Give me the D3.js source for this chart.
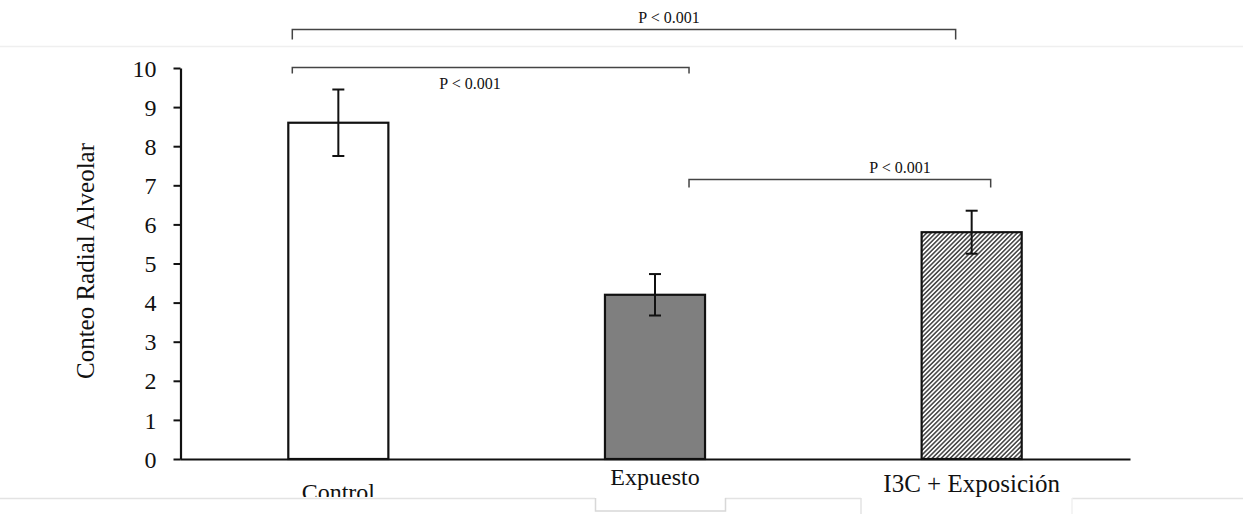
<!DOCTYPE html>
<html>
<head>
<meta charset="utf-8">
<script src="https://cdn.jsdelivr.net/npm/d3@7"></script>
<style>
  html, body { margin: 0; padding: 0; background: #fff; }
  svg { display: block; }
  text { font-family: "Liberation Serif", "Times New Roman", serif; fill: #111; }
</style>
</head>
<body>
<svg id="chart" width="1243" height="514"></svg>
<script>
// ---- data ----
const categories = ["Control", "Expuesto", "I3C + Exposición"];
const means = [8.6, 4.2, 5.8];
const errors = [0.85, 0.53, 0.55];
const yTicks = [0, 1, 2, 3, 4, 5, 6, 7, 8, 9, 10];
const yLabel = "Conteo Radial Alveolar";
const pLabels = ["P < 0.001", "P < 0.001", "P < 0.001"];
const bracketFrom = ["Control", "Control", "Expuesto"];
const bracketTo = ["I3C + Exposición", "Expuesto", "I3C + Exposición"];
const bracketLevel = [11.0, 10.03, 7.15];

// ---- layout ----
const W = 1243, H = 514;
const svg = d3.select("#chart");
const x = d3.scaleBand().domain(categories).range([180, 1130])
  .paddingInner(0.684).paddingOuter(0.342);
const y = d3.scaleLinear().domain([0, 10]).range([459, 68]);

// hatch pattern
const defs = svg.append("defs");
const pat = defs.append("pattern").attr("id", "hatch")
  .attr("patternUnits", "userSpaceOnUse").attr("width", 3.2).attr("height", 3.2)
  .attr("patternTransform", "rotate(45)");
pat.append("rect").attr("width", 3.2).attr("height", 3.2).attr("fill", "#fff");
pat.append("line").attr("x1", 0.8).attr("y1", 0).attr("x2", 0.8).attr("y2", 3.2)
  .attr("stroke", "#222").attr("stroke-width", 1.3);

defs.append("clipPath").attr("id", "clipBottom")
  .append("rect").attr("x", 0).attr("y", 0).attr("width", W).attr("height", 497);

// faint page lines (document artefacts)
const faint = "#e3e3e3";
svg.append("line").attr("x1", 0).attr("x2", W).attr("y1", 46.5).attr("y2", 46.5)
  .attr("stroke", "#efefef").attr("stroke-width", 1.5);
const bottomSegs = [[0, 595], [725, 861], [1072, W]];
bottomSegs.forEach(s => svg.append("line").attr("x1", s[0]).attr("x2", s[1])
  .attr("y1", 498.5).attr("y2", 498.5).attr("stroke", faint).attr("stroke-width", 1.5));
svg.append("path").attr("d", "M595.5,498 V511 H725.5 V498")
  .attr("fill", "none").attr("stroke", "#d8d8d8").attr("stroke-width", 1.5);
svg.append("line").attr("x1", 861).attr("x2", 861).attr("y1", 498).attr("y2", 514)
  .attr("stroke", faint).attr("stroke-width", 1.5);
svg.append("line").attr("x1", 1072).attr("x2", 1072).attr("y1", 498).attr("y2", 514)
  .attr("stroke", "#f0f0f0").attr("stroke-width", 1.5);

// bars
const fills = ["#ffffff", "#7f7f7f", "url(#hatch)"];
svg.selectAll("rect.bar").data(categories).join("rect")
  .attr("class", "bar")
  .attr("x", d => x(d))
  .attr("width", x.bandwidth())
  .attr("y", (d, i) => y(means[i]))
  .attr("height", (d, i) => y(0) - y(means[i]))
  .attr("fill", (d, i) => fills[i])
  .attr("stroke", "#111").attr("stroke-width", 2.2);

// error bars
const capW = 12;
const eb = svg.selectAll("g.err").data(categories).join("g").attr("class", "err")
  .attr("stroke", "#111").attr("stroke-width", 2);
eb.append("line")
  .attr("x1", d => x(d) + x.bandwidth() / 2).attr("x2", d => x(d) + x.bandwidth() / 2)
  .attr("y1", (d, i) => y(means[i] + errors[i])).attr("y2", (d, i) => y(means[i] - errors[i]));
eb.append("line")
  .attr("x1", d => x(d) + x.bandwidth() / 2 - capW / 2).attr("x2", d => x(d) + x.bandwidth() / 2 + capW / 2)
  .attr("y1", (d, i) => y(means[i] + errors[i])).attr("y2", (d, i) => y(means[i] + errors[i]));
eb.append("line")
  .attr("x1", d => x(d) + x.bandwidth() / 2 - capW / 2).attr("x2", d => x(d) + x.bandwidth() / 2 + capW / 2)
  .attr("y1", (d, i) => y(means[i] - errors[i])).attr("y2", (d, i) => y(means[i] - errors[i]));

// y axis
const yAxis = d3.axisLeft(y).tickValues(yTicks).tickFormat(d3.format("d"))
  .tickSize(7).tickSizeOuter(0).tickPadding(17);
const gy = svg.append("g").attr("transform", "translate(180.5,0)").call(yAxis)
  .attr("font-family", null);
gy.select(".domain").attr("stroke", "#111").attr("stroke-width", 2.2);
gy.selectAll(".tick line").attr("stroke", "#111").attr("stroke-width", 2);
gy.selectAll(".tick text").style("font-family", "'Liberation Serif', serif").style("font-size", "24px")
  .attr("fill", "#111").attr("dy", "0.34em");

// x axis line
const xAxis = d3.axisBottom(x).tickSize(0).tickSizeOuter(0).tickFormat("");
const gx = svg.append("g").attr("transform", `translate(0,${y(0)})`).call(xAxis);
gx.select(".domain").attr("stroke", "#111").attr("stroke-width", 2.2);

// category labels
const labelBase = [500, 485, 492];
const labelSize = [24, 24, 25];
svg.append("g").attr("clip-path", "url(#clipBottom)")
  .selectAll("text").data(categories).join("text")
  .attr("x", d => x(d) + x.bandwidth() / 2)
  .attr("y", (d, i) => labelBase[i])
  .attr("text-anchor", "middle")
  .style("font-size", (d, i) => labelSize[i] + "px")
  .text(d => d);

// y label
svg.append("text")
  .attr("transform", "translate(94,261) rotate(-90)")
  .attr("text-anchor", "middle")
  .style("font-size", "25px")
  .text(yLabel);

// significance brackets
const fromFrac = [0.04, 0.04, 0.84];
const toFrac = [0.34, 0.84, 0.69];
const tickLen = [10, 6, 8];
const labelX = [669, 470, 900];
const labelY = [23, 89, 173];
bracketLevel.forEach((lv, i) => {
  const x1 = x(bracketFrom[i]) + fromFrac[i] * x.bandwidth();
  const x2 = x(bracketTo[i]) + toFrac[i] * x.bandwidth();
  const yy = Math.round(y(lv)) + 0.5;
  svg.append("path")
    .attr("d", `M${x1},${yy + tickLen[i]} V${yy} H${x2} V${yy + tickLen[i]}`)
    .attr("fill", "none").attr("stroke", "#444").attr("stroke-width", 1.5);
  svg.append("text").attr("x", labelX[i]).attr("y", labelY[i])
    .attr("text-anchor", "middle").style("font-size", "16px").attr("fill", "#222")
    .text(pLabels[i]);
});
</script>
</body>
</html>
